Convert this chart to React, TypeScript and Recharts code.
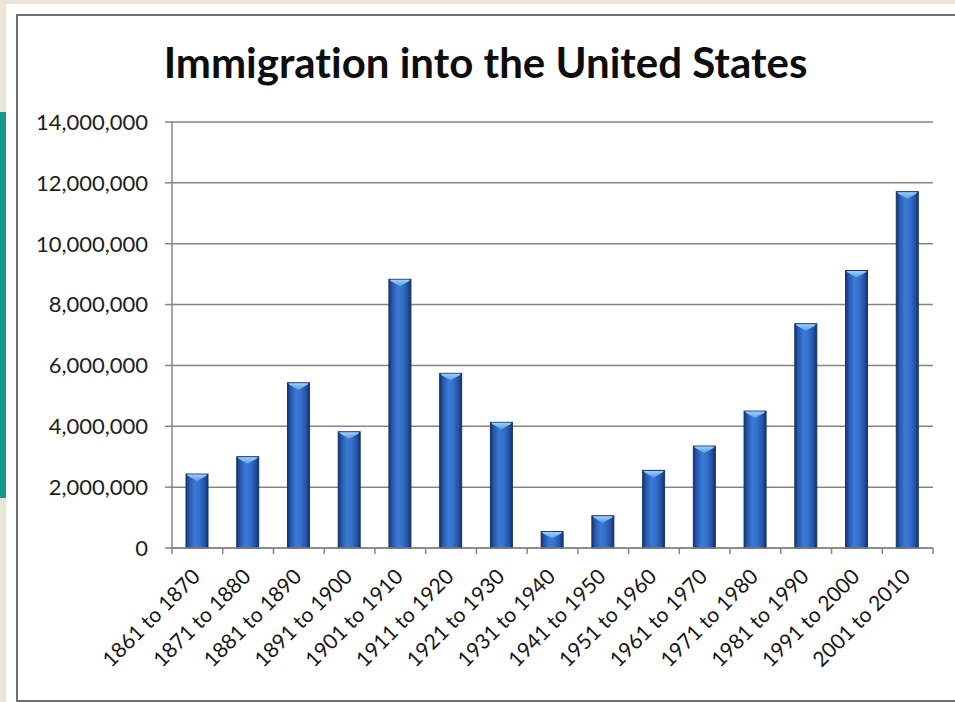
import React from "react";
import { BarChart, Bar, XAxis, YAxis, CartesianGrid } from "recharts";

// decades on the x axis
const decades = [
  "1861 to 1870",
  "1871 to 1880",
  "1881 to 1890",
  "1891 to 1900",
  "1901 to 1910",
  "1911 to 1920",
  "1921 to 1930",
  "1931 to 1940",
  "1941 to 1950",
  "1951 to 1960",
  "1961 to 1970",
  "1971 to 1980",
  "1981 to 1990",
  "1991 to 2000",
  "2001 to 2010",
];

// immigrants per decade
const immigrants = [
  2430000, 3000000, 5430000, 3820000, 8830000, 5740000, 4130000, 540000,
  1060000, 2550000, 3350000, 4500000, 7370000, 9120000, 11710000,
];

const yTicks = [0, 2000000, 4000000, 6000000, 8000000, 10000000, 12000000, 14000000];

const data = decades.map((d, i) => ({ decade: d, value: immigrants[i] }));

const FONT = "Lato, 'Open Sans', sans-serif";
const CHART_W = 935;
const CHART_H = 682;
const MARGIN = { top: 106, right: 20, left: 0, bottom: 0 };
const Y_AXIS_W = 154;
const PLOT_W = CHART_W - MARGIN.right - Y_AXIS_W;
const BAND = PLOT_W / decades.length;
const AXIS_GRAY = "#858585";

function CylinderBar(props: any) {
  const { x, y, width, height } = props;
  if (height <= 0) return null;
  const cap = 7;
  return (
    <g>
      <rect x={x} y={y} width={width} height={height} fill="url(#barGrad)" />
      <rect x={x} y={y} width={width} height={height} fill="none" stroke="#163468" strokeWidth={1} />
      <path
        d={`M${x + 1},${y + 0.5} L${x + width - 1},${y + 0.5} L${x + width - 2},${y + 2} L${x + width / 2},${y + cap} L${x + 2},${y + 2} Z`}
        fill="url(#capGrad)"
      />
    </g>
  );
}

function DecadeTick(props: any) {
  const { x, y, payload, index } = props;
  const last = index === decades.length - 1;
  return (
    <g>
      <line x1={x - BAND / 2} y1={y} x2={x - BAND / 2} y2={y + 6} stroke={AXIS_GRAY} strokeWidth={1.5} />
      {last && (
        <line x1={x + BAND / 2} y1={y} x2={x + BAND / 2} y2={y + 6} stroke={AXIS_GRAY} strokeWidth={1.5} />
      )}
      <g transform={`translate(${x + 4},${y + 30})`}>
        <text
          textAnchor="end"
          transform="rotate(-45)"
          fontFamily={FONT}
          fontSize={21}
          fill="#161616"
          style={{ fontVariantLigatures: "none" }}
        >
          {payload.value}
        </text>
      </g>
    </g>
  );
}

export default function App() {
  return (
    <div
      style={{
        position: "fixed",
        left: 0,
        top: 0,
        width: 955,
        height: 702,
        overflow: "hidden",
        background: "#ece3da",
      }}
    >
      <style>{"html,body{overflow:hidden;margin:0}"}</style>
      {/* slide background */}
      <div style={{ position: "absolute", left: 6, top: 4, width: 1000, height: 720, background: "#ffffff" }} />
      <div style={{ position: "absolute", left: 0, top: 112, width: 6, height: 386, background: "#13998b" }} />
      {/* chart frame, runs off the right edge */}
      <div
        style={{
          position: "absolute",
          left: 16,
          top: 14,
          width: 1000,
          height: 684,
          borderTop: "2px solid #6f6f6f",
          borderLeft: "2px solid #6f6f6f",
          borderBottom: "2px solid #6f6f6f",
          background: "#ffffff",
        }}
      />
      <div
        style={{
          position: "absolute",
          left: 18,
          top: 37,
          width: CHART_W,
          textAlign: "center",
          fontFamily: FONT,
          fontWeight: 700,
          fontSize: 42,
          color: "#0d0d0d",
          fontVariantLigatures: "none",
          whiteSpace: "nowrap",
        }}
      >
        Immigration into the United States
      </div>
      <div style={{ position: "absolute", left: 18, top: 16 }}>
        <BarChart width={CHART_W} height={CHART_H} data={data} margin={MARGIN}>
          <defs>
            <linearGradient id="barGrad" x1="0" y1="0" x2="1" y2="0">
              <stop offset="0%" stopColor="#17336a" />
              <stop offset="15%" stopColor="#2657ad" />
              <stop offset="40%" stopColor="#3b7ad8" />
              <stop offset="60%" stopColor="#3571cc" />
              <stop offset="85%" stopColor="#2352a5" />
              <stop offset="100%" stopColor="#15306a" />
            </linearGradient>
            <linearGradient id="capGrad" x1="0" y1="0" x2="0" y2="1">
              <stop offset="0%" stopColor="#9fd0f7" />
              <stop offset="100%" stopColor="#5a9ae6" />
            </linearGradient>
          </defs>
          <CartesianGrid vertical={false} stroke={AXIS_GRAY} strokeWidth={1.5} />
          <XAxis
            dataKey="decade"
            height={CHART_H - 532}
            interval={0}
            tickLine={false}
            tickSize={0}
            tickMargin={0}
            axisLine={{ stroke: AXIS_GRAY, strokeWidth: 1.5 }}
            tick={<DecadeTick />}
          />
          <YAxis
            width={Y_AXIS_W}
            domain={[0, 14000000]}
            ticks={yTicks}
            interval={0}
            tickSize={7}
            tickMargin={17}
            tickFormatter={(v: number) => v.toLocaleString("en-US")}
            tick={{ fontFamily: FONT, fontSize: 22, fill: "#1e1e1e" }}
            axisLine={{ stroke: AXIS_GRAY, strokeWidth: 1.5 }}
            tickLine={{ stroke: AXIS_GRAY, strokeWidth: 1.5 }}
          />
          <Bar dataKey="value" barSize={22} shape={<CylinderBar />} isAnimationActive={false} />
        </BarChart>
      </div>
    </div>
  );
}
